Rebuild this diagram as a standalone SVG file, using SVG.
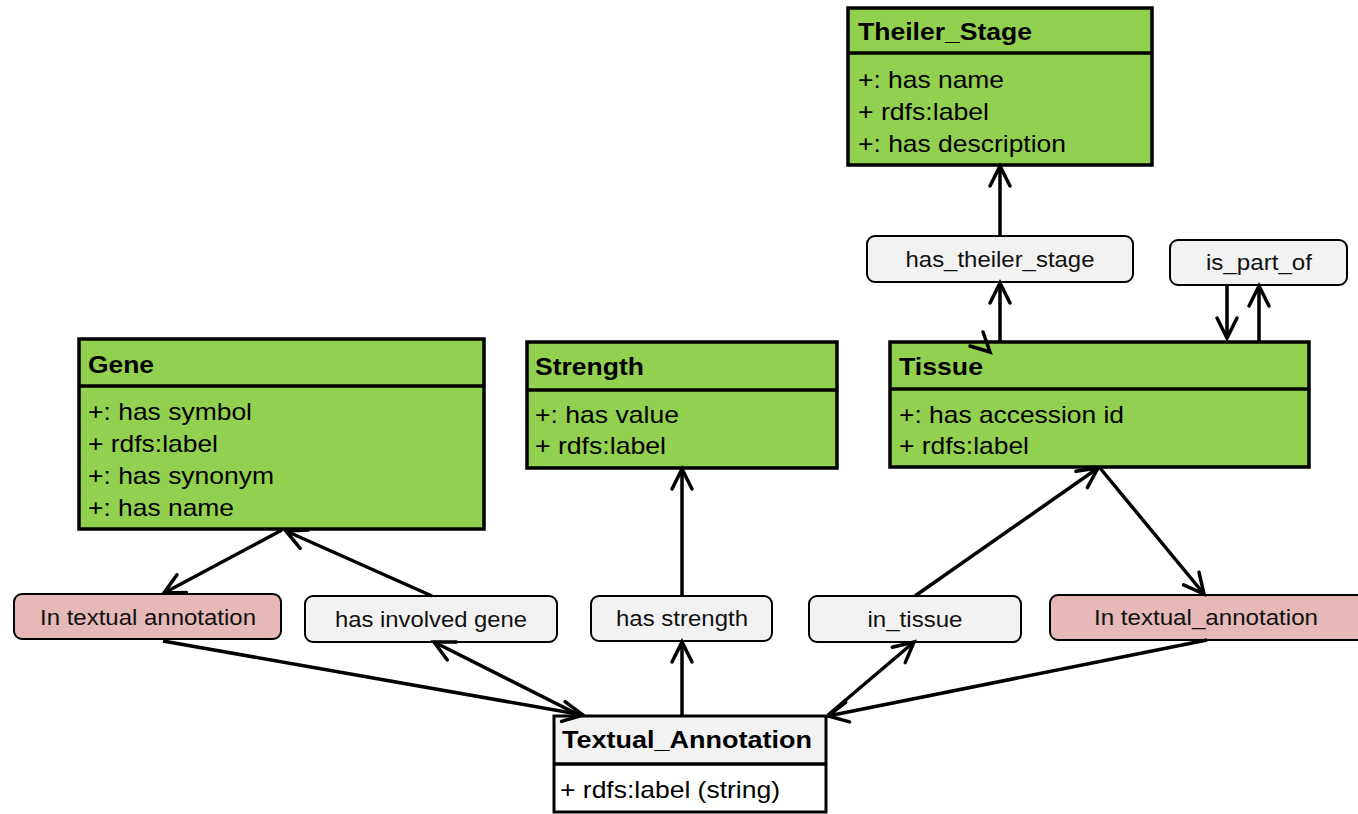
<svg xmlns="http://www.w3.org/2000/svg" width="1358" height="814" viewBox="0 0 1358 814">
  <defs>
    <marker id="arr" markerUnits="userSpaceOnUse" markerWidth="30" markerHeight="30" viewBox="-25 -15 30 30" refX="0" refY="0" orient="auto">
      <path d="M -20 -10 L 0 0 L -20 10" fill="none" stroke="#000" stroke-width="3.5" stroke-linecap="round" stroke-linejoin="miter"/>
    </marker>
  </defs>
  <style>
    .cls { fill: #92d050; stroke: #000; stroke-width: 3.5; }
    .div { stroke: #000; stroke-width: 3.5; }
    .ttl { font-family: "Liberation Sans", Arial, sans-serif; font-weight: bold; font-size: 24px; fill: #000; }
    .att { font-family: "Liberation Sans", Arial, sans-serif; font-size: 24px; fill: #000; }
    .lbl { stroke: #000; stroke-width: 2; }
    .gray { fill: #f2f2f2; }
    .pink { fill: #e6b8b7; }
    .lt { font-family: "Liberation Sans", Arial, sans-serif; font-size: 22px; fill: #111; text-anchor: middle; }
    .con { fill: none; stroke: #000; stroke-width: 3.5; marker-end: url(#arr); }
  </style>
  <rect width="1358" height="814" fill="#fff"/>

  <g id="theiler_stage">
    <rect class="cls" x="848" y="8" width="304" height="157"/>
    <line class="div" x1="848" y1="53" x2="1152" y2="53"/>
    <text class="ttl" x="858" y="40" textLength="174" lengthAdjust="spacingAndGlyphs">Theiler_Stage</text>
    <text class="att" x="858" y="88" textLength="146" lengthAdjust="spacingAndGlyphs">+: has name</text>
    <text class="att" x="858" y="120" textLength="131" lengthAdjust="spacingAndGlyphs">+ rdfs:label</text>
    <text class="att" x="858" y="152" textLength="208" lengthAdjust="spacingAndGlyphs">+: has description</text>
  </g>

  <g id="gene">
    <rect class="cls" x="79" y="339" width="405" height="190"/>
    <line class="div" x1="79" y1="386" x2="484" y2="386"/>
    <text class="ttl" x="88" y="373" textLength="66" lengthAdjust="spacingAndGlyphs">Gene</text>
    <text class="att" x="88" y="420" textLength="164" lengthAdjust="spacingAndGlyphs">+: has symbol</text>
    <text class="att" x="88" y="452" textLength="130" lengthAdjust="spacingAndGlyphs">+ rdfs:label</text>
    <text class="att" x="88" y="484" textLength="186" lengthAdjust="spacingAndGlyphs">+: has synonym</text>
    <text class="att" x="88" y="516" textLength="146" lengthAdjust="spacingAndGlyphs">+: has name</text>
  </g>

  <g id="strength">
    <rect class="cls" x="527" y="342" width="310" height="126"/>
    <line class="div" x1="527" y1="390" x2="837" y2="390"/>
    <text class="ttl" x="535" y="375" textLength="109" lengthAdjust="spacingAndGlyphs">Strength</text>
    <text class="att" x="535" y="423" textLength="144" lengthAdjust="spacingAndGlyphs">+: has value</text>
    <text class="att" x="535" y="454" textLength="131" lengthAdjust="spacingAndGlyphs">+ rdfs:label</text>
  </g>

  <g id="tissue">
    <rect class="cls" x="890" y="342" width="419" height="125"/>
    <line class="div" x1="890" y1="389" x2="1309" y2="389"/>
    <text class="ttl" x="899" y="375" textLength="84" lengthAdjust="spacingAndGlyphs">Tissue</text>
    <text class="att" x="899" y="423" textLength="225" lengthAdjust="spacingAndGlyphs">+: has accession id</text>
    <text class="att" x="899" y="454" textLength="130" lengthAdjust="spacingAndGlyphs">+ rdfs:label</text>
  </g>

  <g id="textual_annotation">
    <rect x="554" y="716" width="272" height="48" fill="#f2f2f2"/>
    <rect x="554" y="764" width="272" height="48" fill="#fff"/>
    <rect x="554" y="716" width="272" height="96" fill="none" stroke="#000" stroke-width="3"/>
    <line class="div" x1="554" y1="764" x2="826" y2="764" stroke-width="3"/>
    <text class="ttl" x="562" y="748" textLength="250" lengthAdjust="spacingAndGlyphs">Textual_Annotation</text>
    <text class="att" x="560" y="798" textLength="220" lengthAdjust="spacingAndGlyphs">+ rdfs:label (string)</text>
  </g>

  <g id="lbl_has_theiler_stage">
    <rect class="lbl gray" x="867" y="236" width="266" height="46" rx="8"/>
    <text class="lt" x="1000" y="267" textLength="189" lengthAdjust="spacingAndGlyphs">has_theiler_stage</text>
  </g>
  <g id="lbl_is_part_of">
    <rect class="lbl gray" x="1170" y="240" width="177" height="45" rx="8"/>
    <text class="lt" x="1259" y="270" textLength="106" lengthAdjust="spacingAndGlyphs">is_part_of</text>
  </g>
  <g id="lbl_in_textual_annotation_left">
    <rect class="lbl pink" x="14" y="594" width="267" height="45" rx="8"/>
    <text class="lt" x="148" y="625" textLength="216" lengthAdjust="spacingAndGlyphs">In textual annotation</text>
  </g>
  <g id="lbl_has_involved_gene">
    <rect class="lbl gray" x="305" y="596" width="252" height="46" rx="8"/>
    <text class="lt" x="431" y="627" textLength="192" lengthAdjust="spacingAndGlyphs">has involved gene</text>
  </g>
  <g id="lbl_has_strength">
    <rect class="lbl gray" x="591" y="596" width="181" height="45" rx="8"/>
    <text class="lt" x="682" y="626" textLength="132" lengthAdjust="spacingAndGlyphs">has strength</text>
  </g>
  <g id="lbl_in_tissue">
    <rect class="lbl gray" x="809" y="596" width="212" height="46" rx="8"/>
    <text class="lt" x="915" y="627" textLength="95" lengthAdjust="spacingAndGlyphs">in_tissue</text>
  </g>
  <g id="lbl_in_textual_annotation_right">
    <rect class="lbl pink" x="1050" y="595" width="318" height="45" rx="8"/>
    <text class="lt" x="1206" y="625" textLength="224" lengthAdjust="spacingAndGlyphs">In textual_annotation</text>
  </g>

  <g id="connectors">
    <line class="con" x1="282" y1="530" x2="164" y2="593"/>
    <line class="con" x1="432" y1="596" x2="286" y2="531"/>
    <line class="con" x1="163" y1="641" x2="583" y2="715"/>
    <line class="con" x1="581" y1="716" x2="434" y2="642"/>
    <line class="con" x1="682" y1="716" x2="682" y2="642"/>
    <line class="con" x1="682" y1="596" x2="682" y2="469"/>
    <line class="con" x1="828" y1="715" x2="914" y2="642"/>
    <line class="con" x1="915" y1="596" x2="1098" y2="468"/>
    <line class="con" x1="1100" y1="468" x2="1204" y2="594"/>
    <line class="con" x1="1207" y1="640" x2="828" y2="716"/>
    <line class="con" x1="1000" y1="341" x2="1000" y2="283"/>
    <line class="con" x1="1000" y1="236" x2="1000" y2="166"/>
    <line class="con" x1="1227" y1="285" x2="1227" y2="338"/>
    <line class="con" x1="1259" y1="341" x2="1259" y2="286"/>
    <polyline points="970,346 990,352 983,332" fill="none" stroke="#000" stroke-width="3.5" stroke-linecap="round"/>
  </g>
</svg>
